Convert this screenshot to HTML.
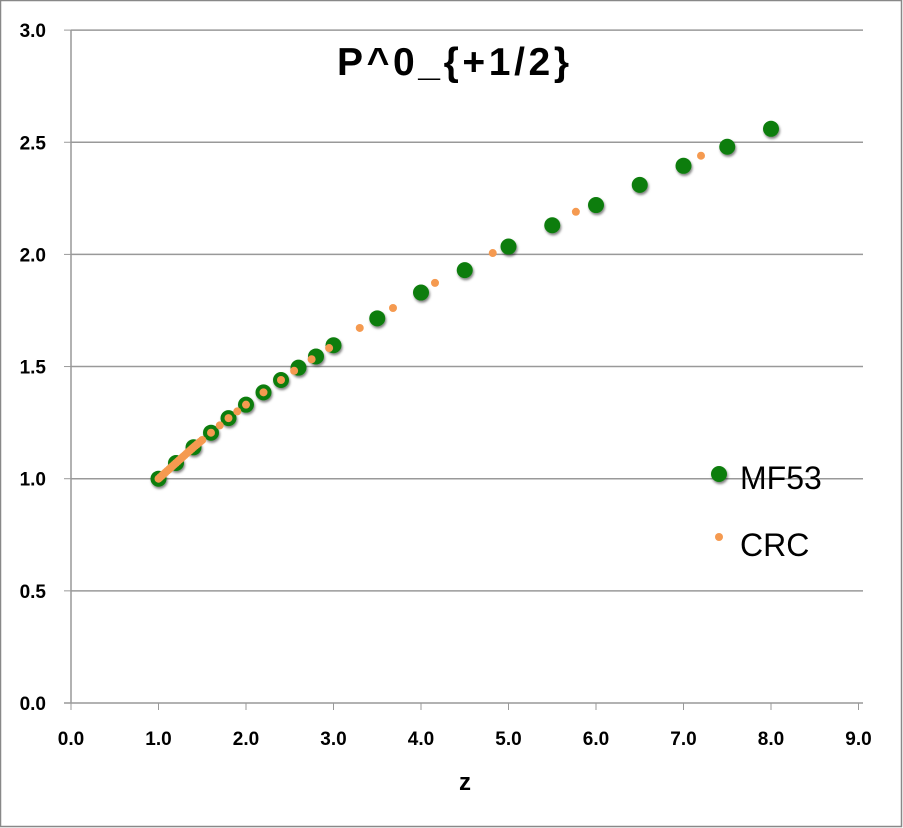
<!DOCTYPE html>
<html><head><style>body{margin:0;background:#fff}svg{display:block}</style></head><body>
<svg id="s" width="903" height="828" xmlns="http://www.w3.org/2000/svg" font-family="Liberation Sans, sans-serif">
<rect x="0.5" y="0.5" width="901" height="826" fill="#fff" stroke="#888" stroke-width="1.5"/>
<defs><filter id="sh" x="-50%" y="-50%" width="200%" height="200%"><feDropShadow dx="1" dy="2" stdDeviation="1.2" flood-color="#000" flood-opacity="0.5"/></filter></defs>
<g id="g"></g>
<text x="453" y="75" font-size="39" font-weight="bold" text-anchor="middle" textLength="232">P^0_{+1/2}</text>
<text x="465" y="790" font-size="24" font-weight="bold" text-anchor="middle">z</text>
<circle cx="719" cy="474" r="8" fill="#0a7d0a" filter="url(#sh)"/>
<text x="740" y="489" font-size="32">MF53</text>
<circle cx="719" cy="537" r="4" fill="#f59a50"/>
<text x="740" y="556" font-size="32">CRC</text>
</svg>
<script>
var g=document.getElementById('g'),h='';
function X(z){return 71+87.5*z}function Y(v){return 703-224.3*v}
for(var i=1;i<=6;i++){var y=Y(i*0.5);h+='<line x1="71" x2="863" y1="'+y+'" y2="'+y+'" stroke="#999" stroke-width="1.5"/>';}
h+='<line x1="71" x2="71" y1="30" y2="703" stroke="#999" stroke-width="1.5"/>';
h+='<line x1="64" x2="863" y1="703" y2="703" stroke="#999" stroke-width="1.5"/>';
for(var i=0;i<=6;i++){var y=Y(i*0.5);h+='<line x1="64" x2="71" y1="'+y+'" y2="'+y+'" stroke="#999"/>';h+='<text x="46" y="'+(y+7)+'" font-size="19" font-weight="bold" text-anchor="end">'+(i*0.5).toFixed(1)+'</text>';}
for(var i=0;i<=9;i++){var x=X(i);h+='<line x1="'+x+'" x2="'+x+'" y1="703" y2="710" stroke="#999"/>';h+='<text x="'+x+'" y="745" font-size="19" font-weight="bold" text-anchor="middle">'+i.toFixed(1)+'</text>';}
var zs=[1,1.2,1.4,1.6,1.8,2,2.2,2.4,2.6,2.8,3,3.5,4,4.5,5,5.5,6,6.5,7,7.5,8];
var vs=[1,1.07,1.14,1.205,1.27,1.33,1.385,1.44,1.495,1.545,1.595,1.715,1.83,1.93,2.035,2.13,2.22,2.31,2.395,2.48,2.56];
function f(z){for(var i=0;i<zs.length-1;i++)if(z<=zs[i+1]){var t=(z-zs[i])/(zs[i+1]-zs[i]);return vs[i]+t*(vs[i+1]-vs[i]);}return vs[vs.length-1];}
for(var i=0;i<zs.length;i++)h+='<circle cx="'+X(zs[i])+'" cy="'+Y(vs[i])+'" r="8" fill="#0a7d0a" filter="url(#sh)"/>';
var cz=[];for(var z=1;z<1.5;z+=0.02)cz.push(z);
cz=cz.concat([1.5,1.6,1.7,1.8,1.9,2.0,2.2,2.4,2.55,2.75,2.95,3.3,3.68,4.16,4.82,5.77,7.2]);
var cv={3.3:1.672,3.68:1.761,4.16:1.873,4.82:2.006,5.77:2.19,7.2:2.44};
cz.forEach(function(z){var v=cv[z]||f(z);h+='<circle cx="'+X(z)+'" cy="'+Y(v)+'" r="4" fill="#f59a50"/>';});
g.innerHTML=h;
</script>
</body></html>
